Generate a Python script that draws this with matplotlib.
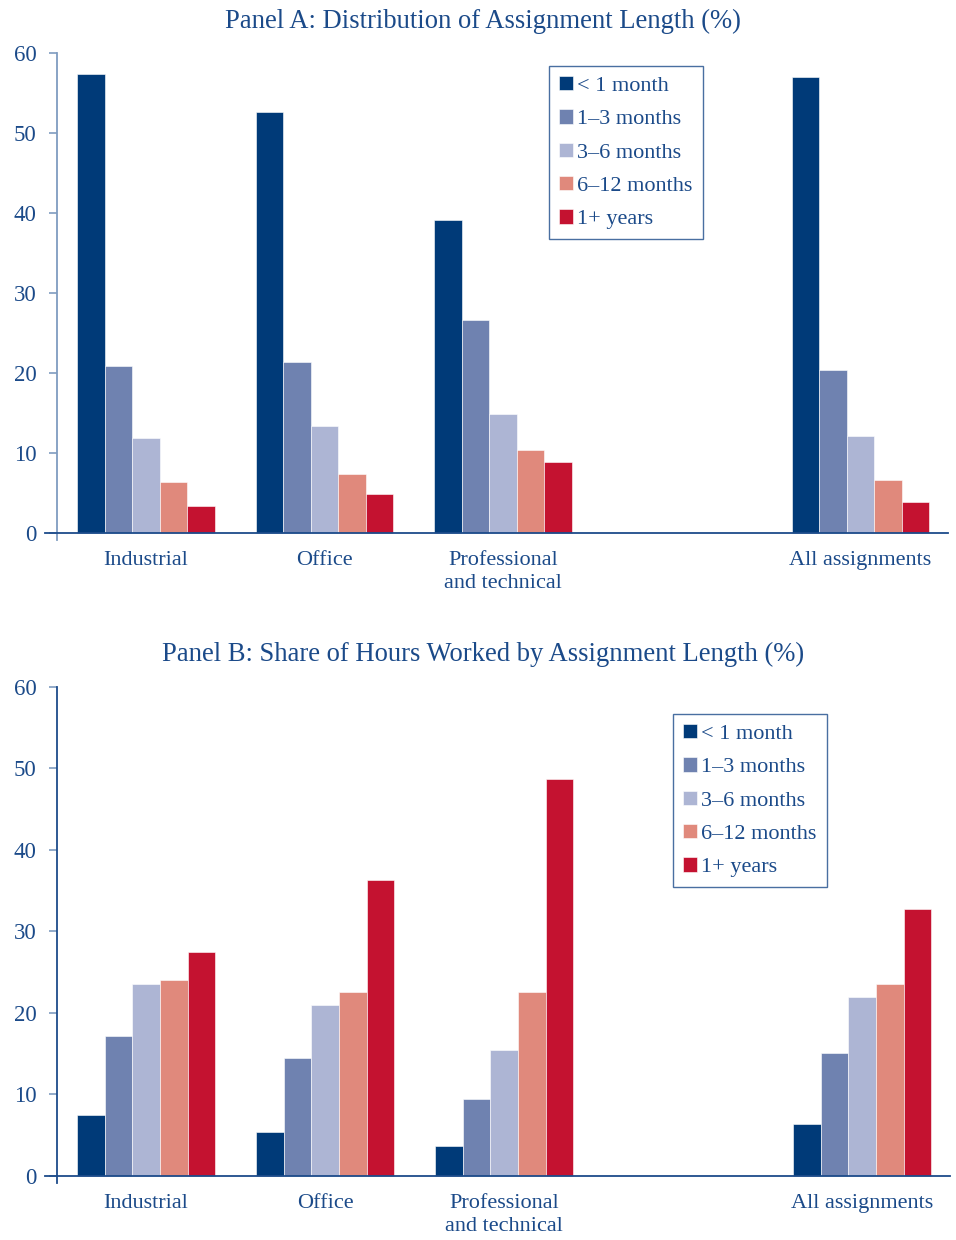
import matplotlib
matplotlib.use("Agg")
import matplotlib.pyplot as plt
import numpy as np

plt.rcParams['font.family'] = ['Liberation Serif', 'DejaVu Serif']

categories = ['Industrial', 'Office', 'Professional\nand technical', 'All assignments']
cat_pos = [0, 1, 2, 4]
lengths = ['< 1 month', '1\u20133 months', '3\u20136 months', '6\u201312 months', '1+ years']
colors = ['#003a78', '#6f82b0', '#adb5d4', '#e0897c', '#c41230']

# Panel A: distribution of assignment length (%)
panel_a = [
    [57.4, 52.6, 39.1, 57.0],   # < 1 month
    [20.9, 21.4, 26.6, 20.3],   # 1-3 months
    [11.9, 13.4, 14.8, 12.1],   # 3-6 months
    [6.3, 7.4, 10.4, 6.6],      # 6-12 months
    [3.3, 4.9, 8.9, 3.9],       # 1+ years
]

# Panel B: share of hours worked (%)
panel_b = [
    [7.5, 5.4, 3.7, 6.4],
    [17.1, 14.4, 9.4, 15.1],
    [23.5, 21.0, 15.4, 21.9],
    [24.0, 22.5, 22.6, 23.5],
    [27.5, 36.3, 48.7, 32.7],
]

text_col = '#1b4a89'
W, H = 956, 1240

fig = plt.figure(figsize=(W / 100, H / 100), dpi=100)


def draw_panel(rect, data, title, title_y, spine_col, leg_xy):
    ax = fig.add_axes(rect)
    bw = 0.154
    for i, series in enumerate(data):
        xs = np.array(cat_pos) + (i - 2) * bw
        ax.bar(xs, series, width=bw, color=colors[i], label=lengths[i],
               edgecolor='white', linewidth=0.4)
    ax.set_xlim(-0.565, 4.49)
    ax.set_ylim(-0.9, 60)
    for spine in ['top', 'right']:
        ax.spines[spine].set_visible(False)
    ax.spines['left'].set_position(('data', -0.497))
    ax.spines['left'].set_color(spine_col)
    ax.spines['left'].set_linewidth(1.3)
    ax.spines['bottom'].set_position(('data', 0))
    ax.spines['bottom'].set_color('#1c4b8a')
    ax.spines['bottom'].set_linewidth(1.3)
    # ticks after spine moves (set_position resets tick props)
    ax.set_yticks([0, 10, 20, 30, 40, 50, 60])
    ax.set_xticks(cat_pos)
    ax.set_xticklabels(categories, linespacing=1.3)
    ax.tick_params(axis='x', length=0, pad=13, labelsize=16, labelcolor=text_col)
    ax.tick_params(axis='y', length=6, width=1.2, color='#7f9cc0',
                   labelsize=16.5, labelcolor=text_col, pad=9)
    fig.text(483 / W, 1 - title_y / H, title, ha='center', va='center',
             fontsize=19.2, color=text_col)
    leg = ax.legend(loc='upper left', bbox_to_anchor=(leg_xy[0] / W, 1 - leg_xy[1] / H),
                    bbox_transform=fig.transFigure, borderaxespad=0,
                    fancybox=False, fontsize=16, handlelength=0.62,
                    handleheight=0.62, handletextpad=0.2, labelspacing=0.6,
                    borderpad=0.45)
    leg.get_frame().set_edgecolor('#1c4b8a')
    leg.get_frame().set_linewidth(1.0)
    for t in leg.get_texts():
        t.set_color(text_col)
    return ax


draw_panel([45 / W, 1 - 540 / H, 903 / W, 487 / H], panel_a,
           'Panel A: Distribution of Assignment Length (%)', 21, '#7f9cc0', (549, 66))
draw_panel([45 / W, 1 - 1183 / H, 905 / W, 496 / H], panel_b,
           'Panel B: Share of Hours Worked by Assignment Length (%)', 654, '#1c4b8a', (673, 714))

fig.savefig('out.png', dpi=100)
